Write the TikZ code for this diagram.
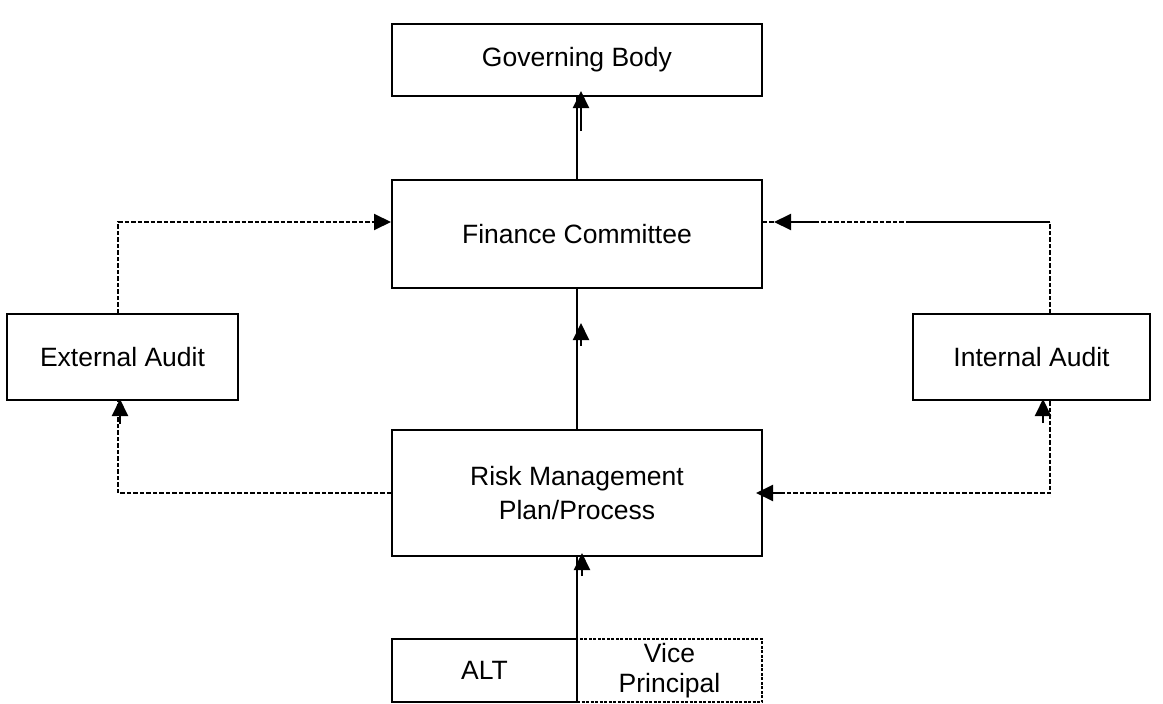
\documentclass[tikz,border=0pt]{standalone}
\usepackage{fontspec}
\setmainfont{Liberation Sans}
\usetikzlibrary{arrows.meta}
\begin{document}
\begin{tikzpicture}[x=1pt,y=-1pt,
  box/.style={draw, line width=2pt, inner sep=0pt, align=center, font=\fontsize{26.5}{34}\selectfont},
  conn/.style={line width=2pt},
  dsh/.style={line width=2pt, dash pattern=on 4.5pt off 2pt},
  arr/.style={line width=2pt, -{Triangle[length=17pt,width=16pt]}},
  darr/.style={dsh, -{Triangle[length=17pt,width=16pt]}}]
\useasboundingbox (0,0) rectangle (1163,704);

\node[box, minimum width=370pt, minimum height=72pt] (gov) at (577,60) {Governing Body};
\node[box, minimum width=370pt, minimum height=108pt] (fin) at (577,234) {Finance Committee};
\node[box, minimum width=231pt, minimum height=86pt] (ext) at (122.5,357) {External Audit};
\node[box, minimum width=237pt, minimum height=86pt] (int) at (1031.5,357) {Internal Audit};
\node[box, minimum width=370pt, minimum height=126pt] (risk) at (577,493) {Risk Management\\Plan/Process};
\node[box, minimum width=185pt, minimum height=63pt, line width=1.5pt, dash pattern=on 3pt off 1.5pt, font=\fontsize{26.5}{30}\selectfont] (vp) at (669.5,670.5) {Vice\\Principal};
\node[box, minimum width=185pt, minimum height=63pt] (alt) at (484.5,670.5) {ALT};

\coordinate (tr) at (1050,222);
\coordinate (tm) at (910,222);

% central spine
\draw[conn] (fin.north) -- (gov.south);
\draw[arr] ([xshift=4pt,yshift=-34pt]gov.south) -- ([xshift=4pt,yshift=6pt]gov.south);
\draw[conn] (risk.north) -- (fin.south);
\draw[arr] ([xshift=4pt,yshift=-57pt]fin.south) -- ([xshift=4pt,yshift=-34pt]fin.south);
\draw[conn] (risk.south |- alt.north) -- (risk.south);
\draw[arr] ([xshift=5pt,yshift=-19pt]risk.south) -- ([xshift=5pt,yshift=4pt]risk.south);

% left side
\draw[darr] ([xshift=-4.5pt]ext.north) |- ([yshift=12pt]fin.west);
\draw[dsh] (risk.west) -| ([xshift=-4.5pt]ext.south);
\draw[arr] ([xshift=-2.5pt,yshift=-23pt]ext.south) -- ([xshift=-2.5pt,yshift=2pt]ext.south);

% right side
\draw[dsh] ([xshift=18.5pt]int.north) -- (tr);
\draw[conn] (tr) -- (tm);
\draw[dsh] (tm) -- ([yshift=12pt]fin.east);
\draw[arr] ([xshift=55pt,yshift=12pt]fin.east) -- ([xshift=11pt,yshift=12pt]fin.east);
\draw[dsh] ([xshift=18.5pt]int.south) |- (risk.east);
\draw[arr] ([xshift=17pt]risk.east) -- ([xshift=-7pt]risk.east);
\draw[arr] ([xshift=11.5pt,yshift=-22pt]int.south) -- ([xshift=11.5pt,yshift=2pt]int.south);
\end{tikzpicture}
\end{document}
